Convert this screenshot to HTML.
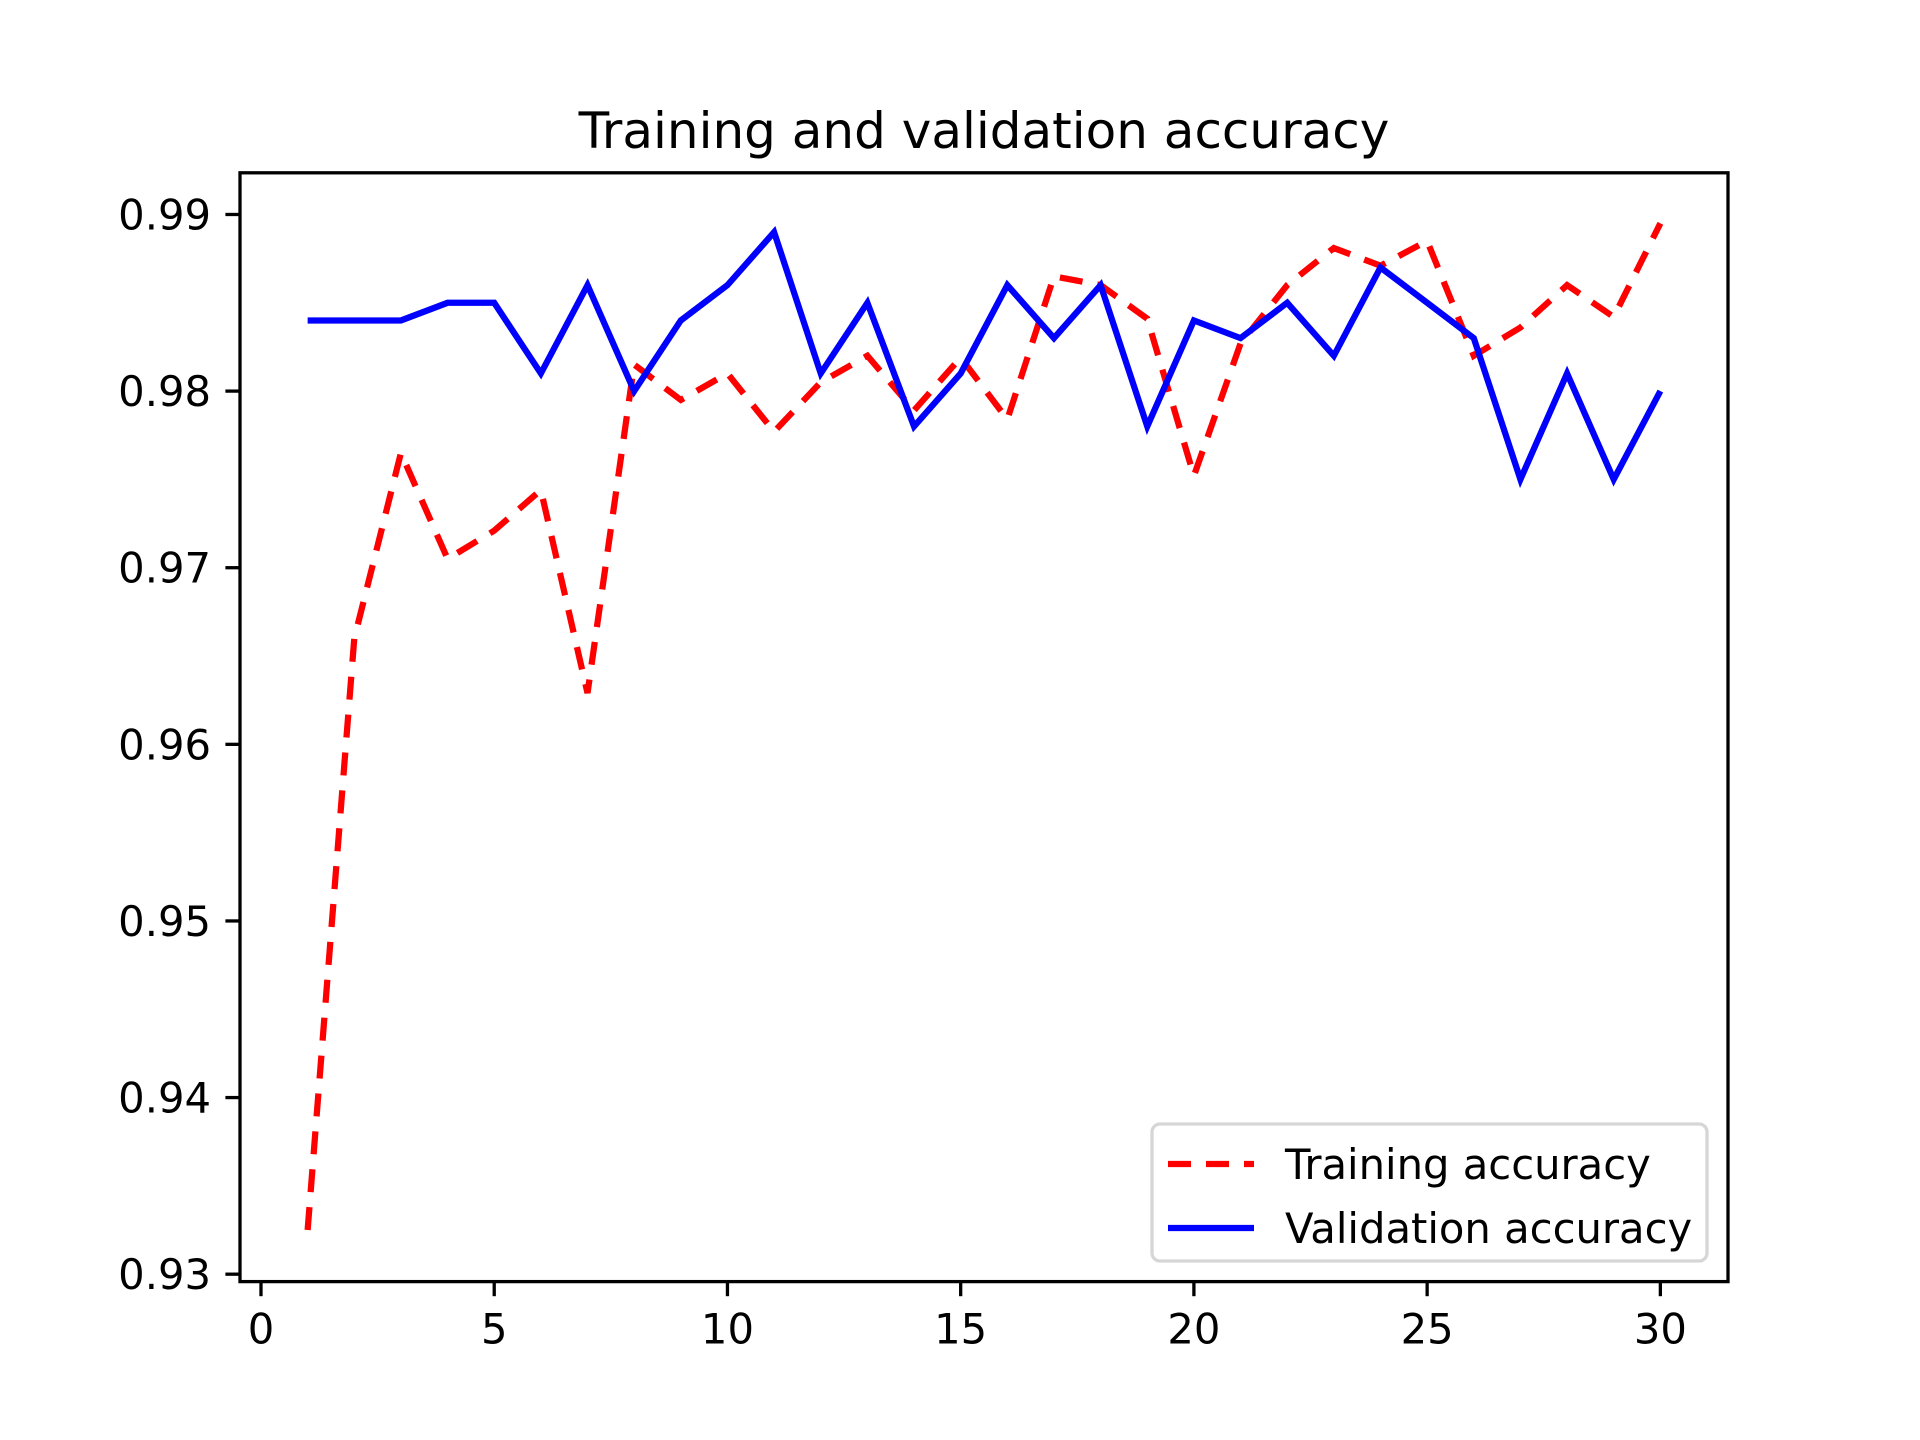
<!DOCTYPE html>
<html><head><meta charset="utf-8"><style>body{margin:0;background:#fff}svg{display:block}text{font-family:"DejaVu Sans","Liberation Sans",sans-serif}</style></head>
<body>
<svg id="chart" width="1920" height="1440" viewBox="0 0 1920 1440" xmlns="http://www.w3.org/2000/svg">
<rect width="1920" height="1440" fill="#fff"/>
<text x="984" y="148" font-size="50" text-anchor="middle">Training and validation accuracy</text>
<g id="plot"></g>
<rect x="240" y="172.8" width="1488" height="1108.8" fill="none" stroke="#000" stroke-width="3.3"/>
<g>
<rect x="1152" y="1124" width="555" height="137" rx="8" fill="#fff" fill-opacity="0.8" stroke="#d6d6d6" stroke-width="3.3"/>
<line x1="1168" y1="1164" x2="1254" y2="1164" stroke="#f00" stroke-width="6.25" stroke-dasharray="23 15"/>
<text x="1285" y="1179" font-size="41.7">Training accuracy</text>
<line x1="1168" y1="1228" x2="1254" y2="1228" stroke="#00f" stroke-width="6.25"/>
<text x="1285" y="1243" font-size="41.7">Validation accuracy</text>
</g>
</svg>
<script>
const epochs=[1,2,3,4,5,6,7,8,9,10,11,12,13,14,15,16,17,18,19,20,21,22,23,24,25,26,27,28,29,30];
const trainAcc=[0.9325,0.9660,0.9765,0.9705,0.9721,0.9744,0.9629,0.9815,0.9795,0.9810,0.9777,0.9805,0.9820,0.9789,0.9819,0.9784,0.9865,0.9860,0.9841,0.9752,0.9827,0.9860,0.9881,0.9871,0.9885,0.9820,0.9836,0.9860,0.9842,0.9895];
const valAcc=[0.984,0.984,0.984,0.985,0.985,0.981,0.986,0.980,0.984,0.986,0.989,0.981,0.985,0.978,0.981,0.986,0.983,0.986,0.978,0.984,0.983,0.985,0.982,0.987,0.985,0.983,0.975,0.981,0.975,0.980];
const xTicks=[0,5,10,15,20,25,30];
const yTicks=[0.93,0.94,0.95,0.96,0.97,0.98,0.99];
const yTickLabels=["0.93","0.94","0.95","0.96","0.97","0.98","0.99"];
const NS="http://www.w3.org/2000/svg";
const L=240,R=1728,T=172.8,B=1281.6;
const xmin=-0.45,xmax=31.45,ymin=0.92958,ymax=0.99236;
const sx=v=>L+(v-xmin)/(xmax-xmin)*(R-L);
const sy=v=>B-(v-ymin)/(ymax-ymin)*(B-T);
const g=document.getElementById('plot');
function mk(tag,attrs){const e=document.createElementNS(NS,tag);for(const k in attrs)e.setAttribute(k,attrs[k]);g.appendChild(e);return e;}
xTicks.forEach(t=>{
 const l=mk('line',{x1:sx(t),x2:sx(t),y1:B,y2:B+14.6,stroke:'#000','stroke-width':3.3});
 
 
 const tx=mk('text',{x:sx(t),y:B+62,'font-size':41.7,'text-anchor':'middle'});
 tx.textContent=t;
 
 
});
yTicks.forEach((t,i)=>{
 const l=mk('line',{x1:L-14.6,x2:L,y1:sy(t),y2:sy(t),stroke:'#000','stroke-width':3.3});
 
 
 const tx=mk('text',{x:L-29,y:sy(t)+15,'font-size':41.7,'text-anchor':'end'});
 tx.textContent=yTickLabels[i];
 
 
});
const tp=mk('polyline',{points:epochs.map((e,i)=>sx(e)+','+sy(trainAcc[i])).join(' '),fill:'none',stroke:'#f00','stroke-width':6.25,'stroke-dasharray':'23 15'});


const vp=mk('polyline',{points:epochs.map((e,i)=>sx(e)+','+sy(valAcc[i])).join(' '),fill:'none',stroke:'#00f','stroke-width':6.25,'stroke-linejoin':'miter'});


</script>
</body></html>
